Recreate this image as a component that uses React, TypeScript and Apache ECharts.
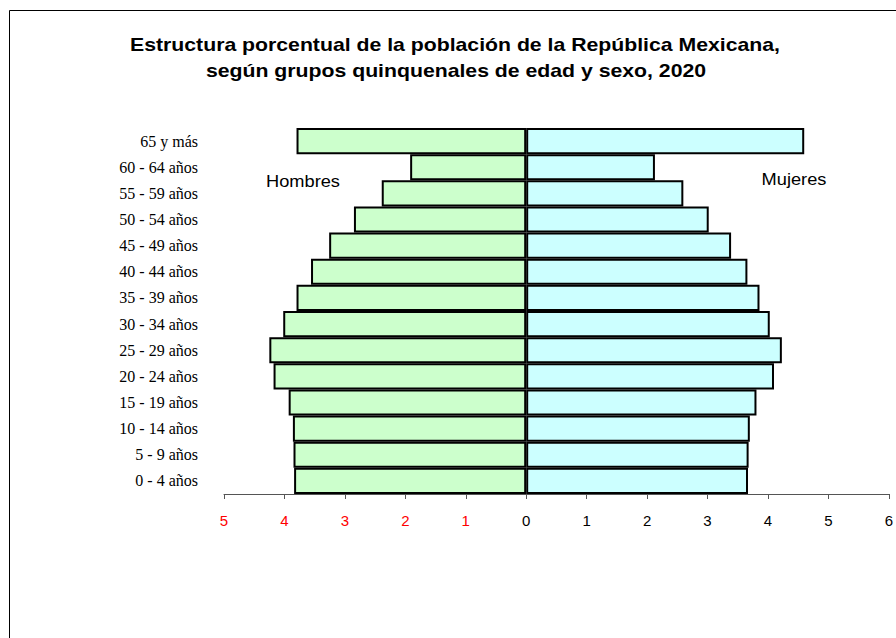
import React, { useEffect, useRef } from "react";
import * as echarts from "echarts";

const categories = [
  "0 - 4 años", "5 - 9 años", "10 - 14 años", "15 - 19 años", "20 - 24 años",
  "25 - 29 años", "30 - 34 años", "35 - 39 años", "40 - 44 años", "45 - 49 años",
  "50 - 54 años", "55 - 59 años", "60 - 64 años", "65 y más",
];
const hombres = [3.84, 3.85, 3.86, 3.93, 4.18, 4.25, 4.02, 3.8, 3.56, 3.26, 2.85, 2.39, 1.92, 3.8];
const mujeres = [3.67, 3.68, 3.7, 3.81, 4.1, 4.23, 4.03, 3.86, 3.66, 3.39, 3.02, 2.6, 2.13, 4.6];
const titleLines = [
  "Estructura porcentual de la población de la República Mexicana,",
  "según grupos quinquenales de edad y sexo, 2020",
];
const xMin = -5;
const xMax = 6;

export default function App() {
  const ref = useRef<HTMLDivElement>(null);
  useEffect(() => {
    if (!ref.current) return;
    const chart = echarts.init(ref.current, null, { renderer: "svg" });
    const sans = "'Liberation Sans', Arial, sans-serif";
    const serif = "'Liberation Serif', 'Times New Roman', serif";
    const txt = (text: string, x: number, y: number, font: string, sx: number) => ({
      type: "text",
      x,
      y,
      scaleX: sx,
      silent: true,
      style: {
        text,
        font,
        fill: "#000",
        align: "center",
        verticalAlign: "middle",
        textAlign: "center",
        textVerticalAlign: "middle",
      },
    });
    chart.setOption({
      animation: false,
      backgroundColor: "#fff",
      grid: { left: 224, right: 1, top: 128, bottom: 144, containLabel: false },
      xAxis: {
        type: "value",
        min: xMin,
        max: xMax,
        interval: 1,
        splitLine: { show: false },
        axisLine: { show: true, onZero: false, lineStyle: { color: "#555", width: 1 } },
        axisTick: { show: true, length: 5, lineStyle: { color: "#555" } },
        axisLabel: {
          margin: 19,
          fontFamily: sans,
          fontSize: 15,
          color: "#000",
          formatter: (v: number) => (v < 0 ? "{r|" + Math.abs(v) + "}" : "{b|" + v + "}"),
          rich: {
            r: { color: "#ff0000", fontFamily: sans, fontSize: 15 },
            b: { color: "#000", fontFamily: sans, fontSize: 15 },
          },
        },
      },
      yAxis: {
        type: "category",
        data: categories,
        axisLine: { show: false, onZero: false },
        axisTick: { show: false },
        splitLine: { show: false },
        axisLabel: { margin: 26, fontFamily: serif, fontSize: 16, color: "#000" },
      },
      series: [
        {
          name: "Hombres",
          type: "bar",
          data: hombres.map((v) => -v),
          barGap: "-100%",
          barCategoryGap: "0%",
          itemStyle: { color: "#ccffcc", borderColor: "#000", borderWidth: 2 },
        },
        {
          name: "Mujeres",
          type: "bar",
          data: mujeres,
          barGap: "-100%",
          barCategoryGap: "0%",
          itemStyle: { color: "#ccffff", borderColor: "#000", borderWidth: 2 },
        },
      ],
      graphic: [
        {
          type: "rect",
          silent: true,
          shape: { x: 9.5, y: 10.5, width: 2000, height: 2000 },
          style: { fill: "none", stroke: "#000", lineWidth: 1 },
        },
        txt(titleLines[0], 455, 45, "bold 18px " + sans, 1.18),
        txt(titleLines[1], 456, 71, "bold 18px " + sans, 1.18),
        txt("Hombres", 303, 181, "16px " + sans, 1.14),
        txt("Mujeres", 794, 179, "16px " + sans, 1.14),
      ],
    });
    return () => chart.dispose();
  }, []);
  return (
    <div
      ref={ref}
      style={{ position: "fixed", left: 0, top: 0, width: 896, height: 638 }}
    />
  );
}
